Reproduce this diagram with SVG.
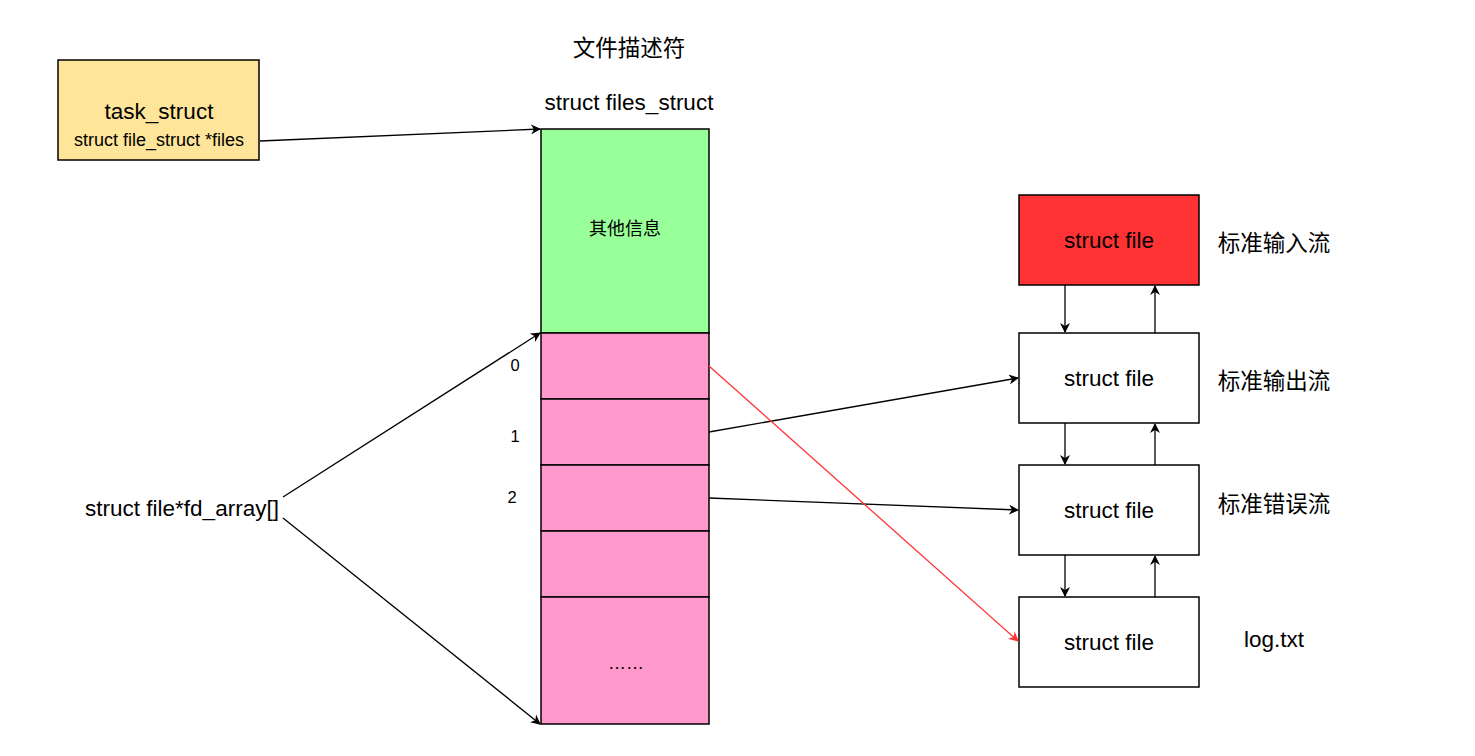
<svg xmlns="http://www.w3.org/2000/svg" width="1475" height="756" viewBox="0 0 1475 756">
<defs>
<style>
text{font-family:"Liberation Sans","Noto Sans CJK SC",sans-serif;fill:#000;text-anchor:middle;}
.box{stroke:#000;stroke-width:1.5;}
.c{fill:none;stroke:#000;stroke-width:1.3;}
.r{fill:none;stroke:#FF3333;stroke-width:1.3;}
.big{font-size:22.5px;}
</style>
<marker id="a" viewBox="0 0 10 10" refX="9" refY="5" markerWidth="10" markerHeight="10" markerUnits="userSpaceOnUse" orient="auto">
<path d="M0,0 L10,5 L0,10 L3,5 Z" fill="#000"/>
</marker>
<marker id="ar" viewBox="0 0 10 10" refX="9" refY="5" markerWidth="10" markerHeight="10" markerUnits="userSpaceOnUse" orient="auto">
<path d="M0,0 L10,5 L0,10 L3,5 Z" fill="#FF3333"/>
</marker>
</defs>
<rect width="1475" height="756" fill="#fff"/>
<text x="629" y="56" font-size="22.5">文件描述符</text>
<text x="629" y="110" class="big">struct files_struct</text>
<g id="task_struct">
<rect class="box" x="58" y="60" width="201" height="100" fill="#FFE599"/>
<text x="159" y="119" class="big">task_struct</text>
<text x="159" y="146" font-size="18">struct file_struct *files</text>
</g>
<g id="files_struct">
<rect class="box" x="541" y="129" width="168" height="204" fill="#99FF99"/>
<text x="625" y="235" font-size="18">其他信息</text>
<rect class="box" x="541" y="333" width="168" height="66" fill="#FF99CC"/>
<rect class="box" x="541" y="399" width="168" height="66" fill="#FF99CC"/>
<rect class="box" x="541" y="465" width="168" height="66" fill="#FF99CC"/>
<rect class="box" x="541" y="531" width="168" height="66" fill="#FF99CC"/>
<rect class="box" x="541" y="597" width="168" height="127" fill="#FF99CC"/>
<text x="626" y="669" font-size="18">……</text>
</g>
<g id="idx">
<text x="515" y="371" font-size="16.5">0</text>
<text x="515" y="442" font-size="16.5">1</text>
<text x="512" y="503" font-size="16.5">2</text>
</g>
<g id="fd_array">
<text x="182" y="516" class="big">struct file*fd_array[]</text>
</g>
<g id="file0">
<rect class="box" x="1019" y="195" width="180" height="90" fill="#FF3333"/>
<text x="1109" y="248" class="big">struct file</text>
</g>
<g id="file1">
<rect class="box" x="1019" y="333" width="180" height="90" fill="#fff"/>
<text x="1109" y="386" class="big">struct file</text>
</g>
<g id="file2">
<rect class="box" x="1019" y="465" width="180" height="90" fill="#fff"/>
<text x="1109" y="518" class="big">struct file</text>
</g>
<g id="file3">
<rect class="box" x="1019" y="597" width="180" height="90" fill="#fff"/>
<text x="1109" y="650" class="big">struct file</text>
</g>
<g id="labels">
<text x="1274" y="251" class="big">标准输入流</text>
<text x="1274" y="389" class="big">标准输出流</text>
<text x="1274" y="512" class="big">标准错误流</text>
<text x="1274" y="647" class="big">log.txt</text>
</g>
<g id="connectors">
<line class="c" x1="260" y1="141" x2="540" y2="129" marker-end="url(#a)"/>
<line class="c" x1="283" y1="497" x2="540" y2="333" marker-end="url(#a)"/>
<line class="c" x1="283" y1="518" x2="540" y2="724" marker-end="url(#a)"/>
<line class="c" x1="709" y1="432" x2="1018" y2="378" marker-end="url(#a)"/>
<line class="c" x1="709" y1="498" x2="1018" y2="510" marker-end="url(#a)"/>
<line class="r" x1="709" y1="366" x2="1018" y2="641" marker-end="url(#ar)"/>
<line class="c" x1="1065" y1="285" x2="1065" y2="332" marker-end="url(#a)"/>
<line class="c" x1="1155" y1="333" x2="1155" y2="286" marker-end="url(#a)"/>
<line class="c" x1="1065" y1="423" x2="1065" y2="464" marker-end="url(#a)"/>
<line class="c" x1="1155" y1="465" x2="1155" y2="424" marker-end="url(#a)"/>
<line class="c" x1="1065" y1="555" x2="1065" y2="596" marker-end="url(#a)"/>
<line class="c" x1="1155" y1="597" x2="1155" y2="556" marker-end="url(#a)"/>
</g>
</svg>
